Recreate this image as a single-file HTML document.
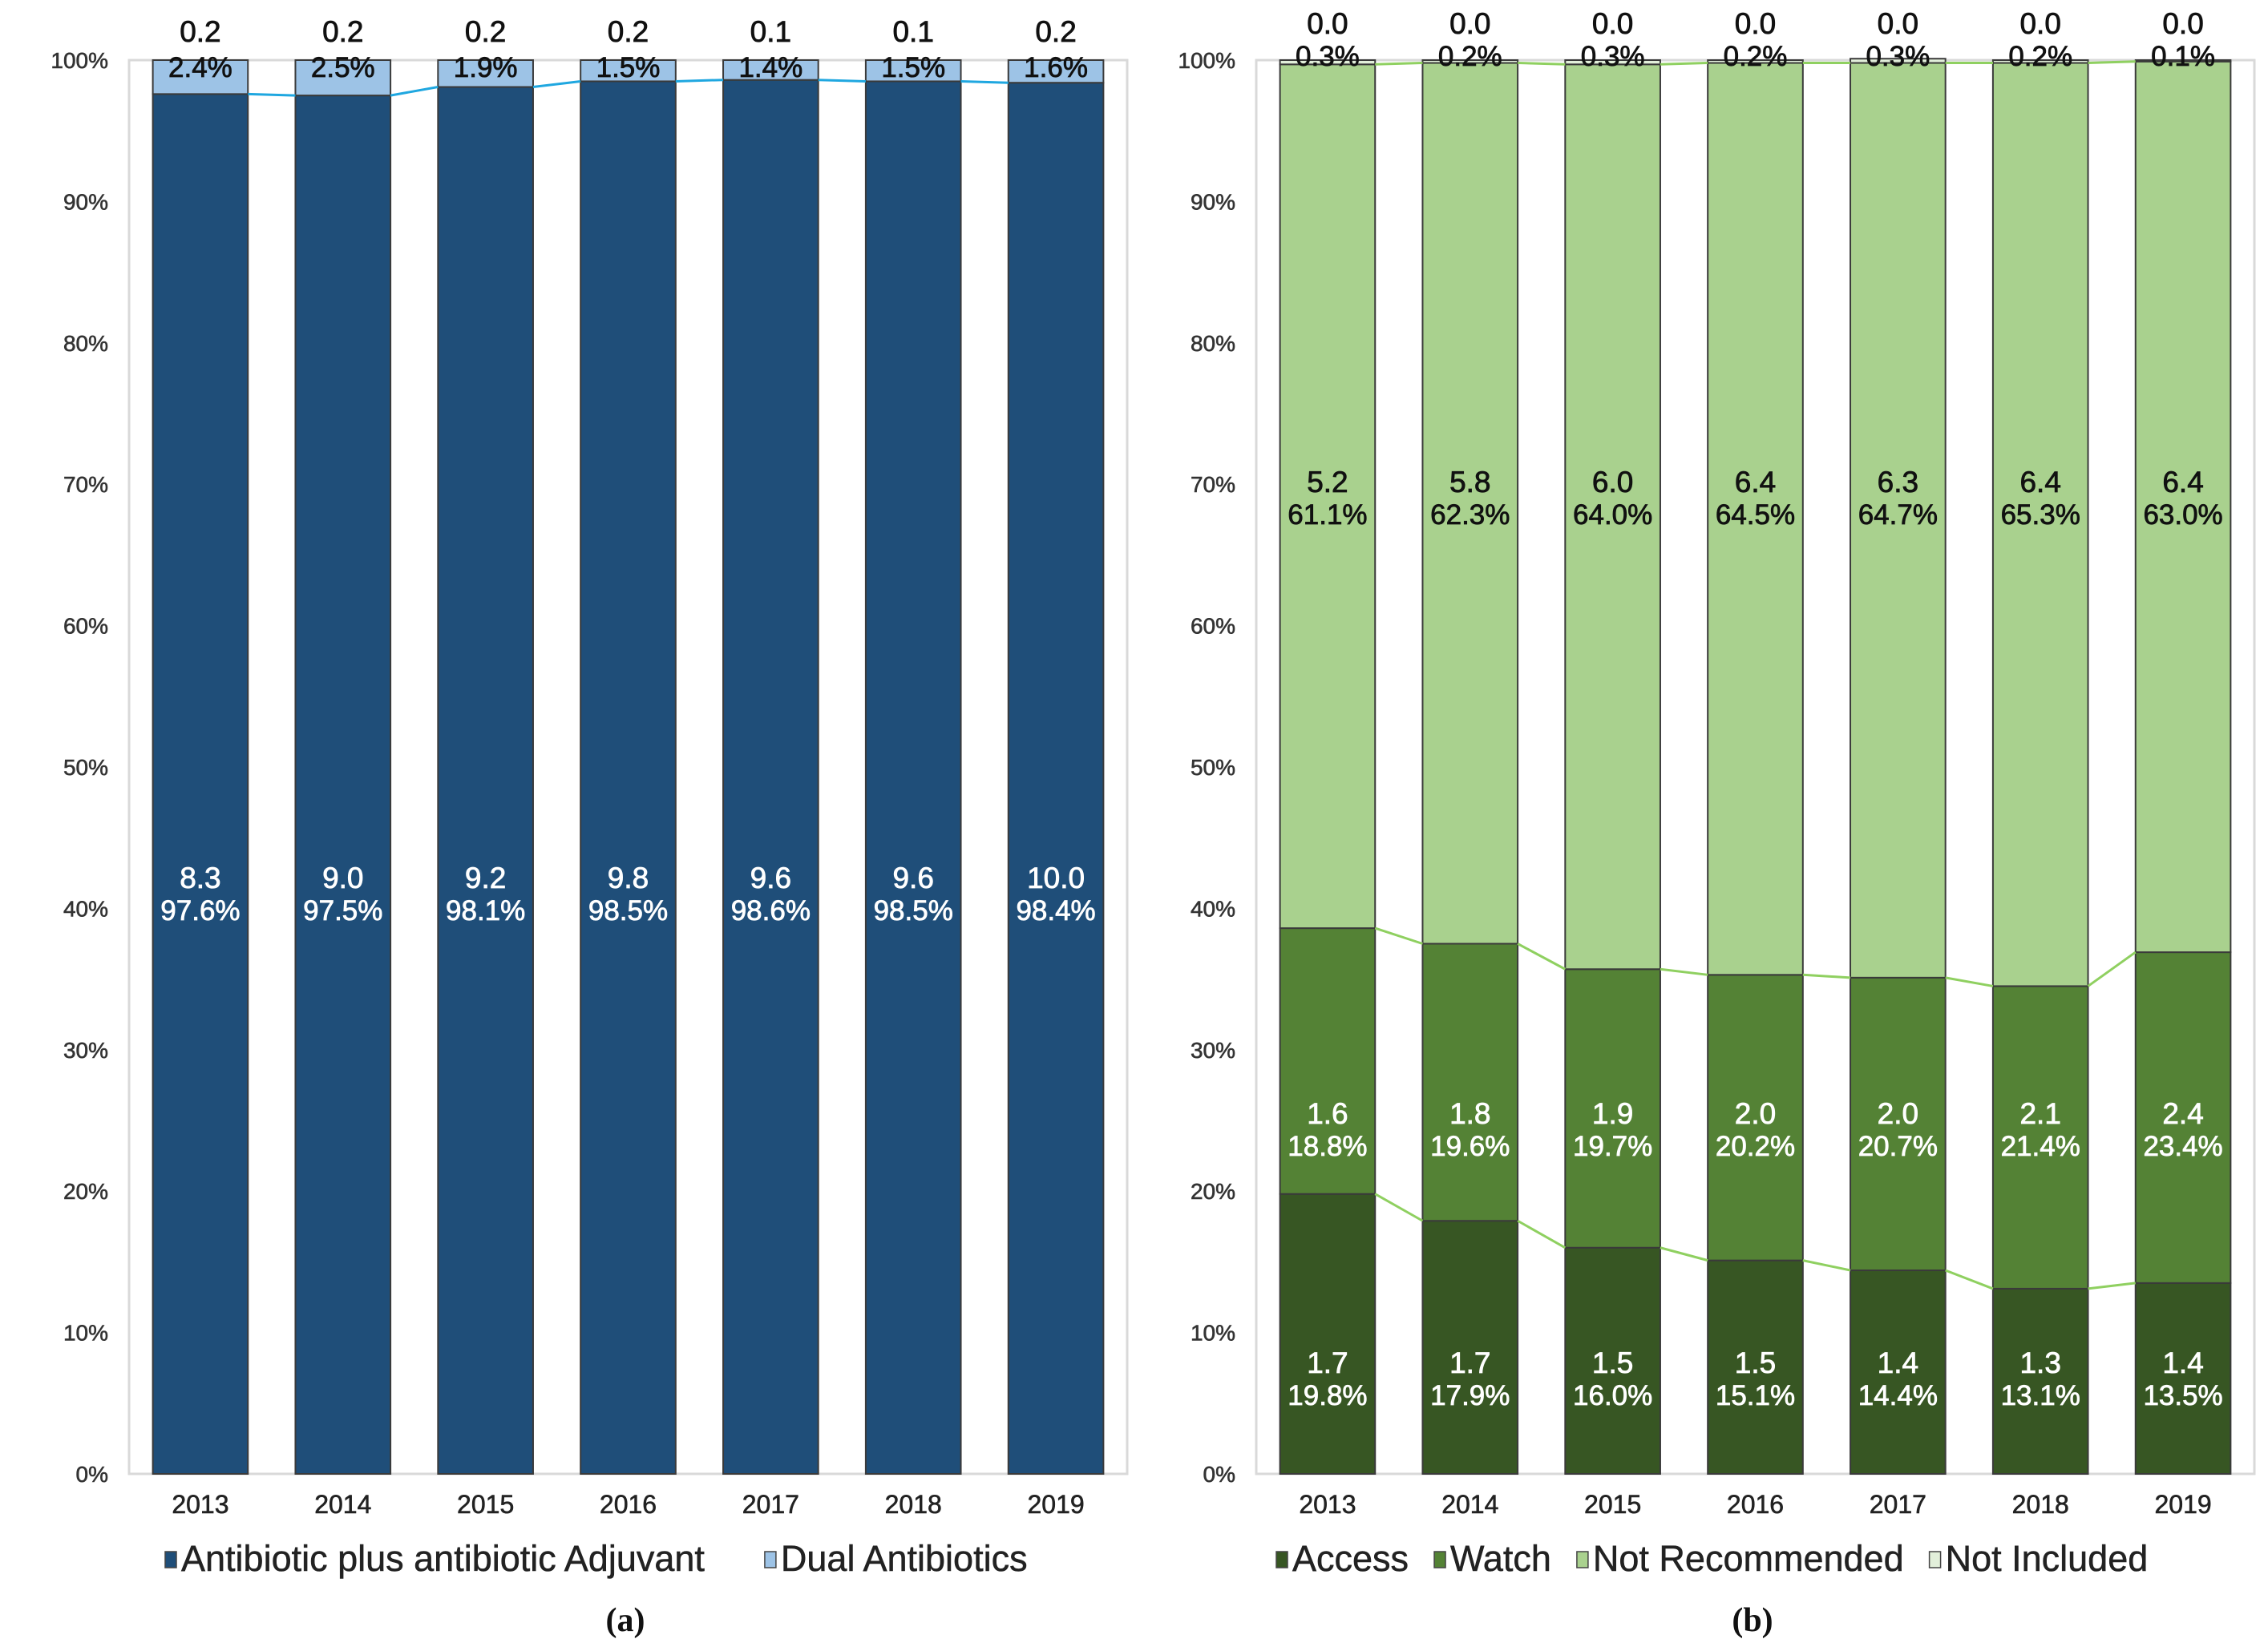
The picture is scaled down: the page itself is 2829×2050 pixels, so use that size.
<!DOCTYPE html>
<html><head><meta charset="utf-8"><style>
html,body{margin:0;padding:0;background:#fff;}
svg{display:block;font-family:"Liberation Sans",sans-serif;}
</style></head><body>
<svg id="chart" width="2829" height="2050" viewBox="0 0 2829 2050"></svg>
<script>
const years=["2013","2014","2015","2016","2017","2018","2019"];
const aMainPct=[97.6,97.5,98.1,98.5,98.6,98.5,98.4];
const aMainVal=["8.3","9.0","9.2","9.8","9.6","9.6","10.0"];
const aDualPct=[2.4,2.5,1.9,1.5,1.4,1.5,1.6];
const aDualVal=["0.2","0.2","0.2","0.2","0.1","0.1","0.2"];
const bAccessPct=[19.8,17.9,16.0,15.1,14.4,13.1,13.5];
const bAccessVal=["1.7","1.7","1.5","1.5","1.4","1.3","1.4"];
const bWatchPct=[18.8,19.6,19.7,20.2,20.7,21.4,23.4];
const bWatchVal=["1.6","1.8","1.9","2.0","2.0","2.1","2.4"];
const bNRPct=[61.1,62.3,64.0,64.5,64.7,65.3,63.0];
const bNRVal=["5.2","5.8","6.0","6.4","6.3","6.4","6.4"];
const bNIPct=[0.3,0.2,0.3,0.2,0.3,0.2,0.1];
const bNIVal=["0.0","0.0","0.0","0.0","0.0","0.0","0.0"];
const yTicks=[0,10,20,30,40,50,60,70,80,90,100];

const svg=document.getElementById('chart');
const NS="http://www.w3.org/2000/svg";
function mk(tag,attrs,parent){const e=document.createElementNS(NS,tag);for(const k in attrs)e.setAttribute(k,attrs[k]);(parent||svg).appendChild(e);return e;}
const Y0=1839,Y1=75;
function y(p){return Y0-(Y0-Y1)*p/100;}

function panel(x0,x1,series,lineColor,legend,labelLetter,labelPos){
  const g=mk('g',{});
  
  
  const band=(x1-x0)/years.length, bw=band*0.667;
  const cx=i=>x0+band*(i+0.5);
  const frame=mk('rect',{x:x0,y:Y1,width:x1-x0,height:Y0-Y1,fill:'none',stroke:'#d9d9d9','stroke-width':3},g);
  
  
  yTicks.forEach(t=>{
    const tx=mk('text',{x:x0-26,y:y(t)+10,'text-anchor':'end','font-size':28,fill:'#333',stroke:'#333','stroke-width':0.6},g);
    tx.textContent=t+'%';
    
    
  });
  years.forEach((yr,i)=>{
    const tx=mk('text',{x:cx(i),y:1888,'text-anchor':'middle','font-size':32,fill:'#222',stroke:'#222','stroke-width':0.6},g);
    tx.textContent=yr;
    
    
  });
  const cum=years.map(()=>0);
  const tops=[];
  series.forEach(s=>{
    const t=[];
    years.forEach((yr,i)=>{
      const b=cum[i], top=b+s.pct[i];
      const r=mk('rect',{x:cx(i)-bw/2,y:y(top),width:bw,height:y(b)-y(top),fill:s.color,stroke:'#3a3a3a','stroke-width':2},g);
      
      
      cum[i]=top;t.push(top);
    });
    tops.push(t);
  });
  tops.slice(0,-1).forEach(t=>{
    for(let i=0;i<years.length-1;i++){
      const l=mk('line',{x1:cx(i)+bw/2,y1:y(t[i]),x2:cx(i+1)-bw/2,y2:y(t[i+1]),stroke:lineColor,'stroke-width':3},g);
      
      
    }
  });
  series.forEach(s=>{
    years.forEach((yr,i)=>{
      if(s.valY!==undefined){
        const v=mk('text',{x:cx(i),y:s.valY,'text-anchor':'middle','font-size':37,fill:s.txt,stroke:s.txt,'stroke-width':0.8},g);
        v.textContent=s.val[i];
        
        
      }
      const p=mk('text',{x:cx(i),y:s.pctY,'text-anchor':'middle','font-size':35,fill:s.txt,stroke:s.txt,'stroke-width':0.8},g);
      p.textContent=s.pct[i].toFixed(1)+'%';
      
      
    });
  });
  let lx=legend.x;
  series.forEach(s=>{
    const sw=mk('rect',{x:lx,y:1936,width:14,height:20,fill:s.color,stroke:'#444','stroke-width':1.5},g);
    
    
    const tx=mk('text',{x:lx+20,y:1960,'font-size':45,fill:'#222',stroke:'#222','stroke-width':0.5},g);
    tx.textContent=s.name;
    
    
    lx+=20+tx.getComputedTextLength()+legend.gap;
  });
  const cap=mk('text',{x:labelPos,y:2035,'text-anchor':'middle','font-size':42,'font-weight':'bold','font-family':'Liberation Serif, serif',fill:'#111'},g);
  cap.textContent='('+labelLetter+')';
  
  
}

panel(161,1406,[
  {key:'adjuvant',name:'Antibiotic plus antibiotic Adjuvant',pct:aMainPct,val:aMainVal,color:'#1f4e79',txt:'#fff',valY:1108,pctY:1148},
  {key:'dual',name:'Dual Antibiotics',pct:aDualPct,val:aDualVal,color:'#9dc3e6',txt:'#111',valY:52,pctY:96}
],'#1fa7e0',{x:206,gap:75},'a',780);

panel(1567,2812,[
  {key:'access',name:'Access',pct:bAccessPct,val:bAccessVal,color:'#375623',txt:'#fff',valY:1713,pctY:1753},
  {key:'watch',name:'Watch',pct:bWatchPct,val:bWatchVal,color:'#548235',txt:'#fff',valY:1402,pctY:1442},
  {key:'notrec',name:'Not Recommended',pct:bNRPct,val:bNRVal,color:'#a9d18e',txt:'#111',valY:614,pctY:654},
  {key:'notinc',name:'Not Included',pct:bNIPct,val:bNIVal,color:'#e2efda',txt:'#111',valY:42,pctY:82}
],'#8fd060',{x:1592,gap:32},'b',2186);
</script>
</body></html>
